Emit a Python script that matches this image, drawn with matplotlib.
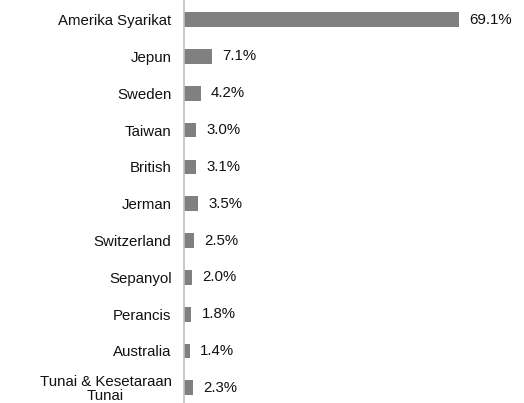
import matplotlib
matplotlib.use('Agg')
import matplotlib.pyplot as plt

# holdings by country (%)
countries = ['Amerika Syarikat', 'Jepun', 'Sweden', 'Taiwan', 'British', 'Jerman',
             'Switzerland', 'Sepanyol', 'Perancis', 'Australia', 'Tunai & Kesetaraan\nTunai']
weights = [69.1, 7.1, 4.2, 3.0, 3.1, 3.5, 2.5, 2.0, 1.8, 1.4, 2.3]

plt.rcParams['font.family'] = ['Liberation Sans', 'DejaVu Sans']
fs = 10.8

fig = plt.figure(figsize=(5.24, 4.03), dpi=100)
ax = fig.add_axes([184/524, -0.008, 318/524, 1.005])

pos = list(range(len(countries)))
ax.barh(pos, weights, height=0.4, color='#808080')
for p, w in zip(pos, weights):
    ax.text(w + 2.6, p, '%.1f%%' % w, va='center', ha='left', fontsize=fs, color='#111111')

ax.set_xlim(0, 80)
ax.set_ylim(len(countries) - 0.5, -0.5)
ax.set_yticks(pos)
ax.set_yticklabels(countries, fontsize=fs, color='#111111', multialignment='center',
                   linespacing=1.0)
ax.tick_params(axis='y', length=0, pad=9)
ax.set_xticks([])
for s in ['top', 'right', 'bottom']:
    ax.spines[s].set_visible(False)
ax.spines['left'].set_color('#bfbfbf')
ax.spines['left'].set_linewidth(1.2)

fig.savefig('out.png', dpi=100)
